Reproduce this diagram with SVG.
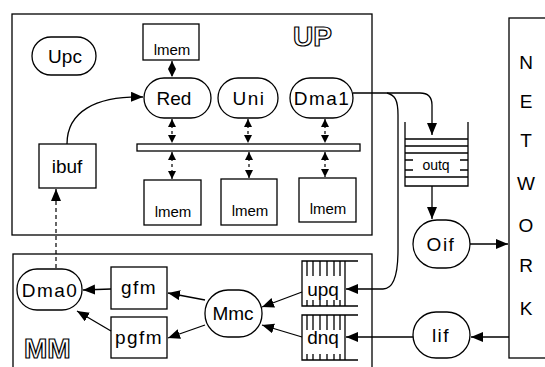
<svg xmlns="http://www.w3.org/2000/svg" width="545" height="367" viewBox="0 0 545 367">
<defs>
<marker id="ah" markerUnits="userSpaceOnUse" markerWidth="13" markerHeight="11" refX="12" refY="5" orient="auto"><path d="M0,0 L12,5 L0,10 z" fill="#000"/></marker>
<marker id="sm" markerUnits="userSpaceOnUse" markerWidth="9" markerHeight="8" refX="8" refY="4" orient="auto-start-reverse"><path d="M0,0 L8,4 L0,8 z" fill="#000"/></marker>
</defs>
<style>
.b{fill:#fff;stroke:#000;stroke-width:1.3}
.l{fill:none;stroke:#000;stroke-width:1.3}
.t{font-family:"Liberation Sans",Arial,sans-serif;font-size:19px;fill:#000;text-anchor:middle}
.s{font-size:15px}
.q{font-size:14px}
.w{letter-spacing:1.5px}
.big{font-family:"Liberation Sans",Arial,sans-serif;font-weight:bold;font-size:28px;fill:#fff;stroke:#000;stroke-width:1.2}
.d{fill:none;stroke:#000;stroke-width:1.2;stroke-dasharray:4 3}
.a{fill:none;stroke:#000;stroke-width:1.3;marker-end:url(#ah)}
.da{fill:none;stroke:#000;stroke-width:1.2;stroke-dasharray:3 3;marker-start:url(#sm);marker-end:url(#sm)}
.n{font-family:"Liberation Sans",Arial,sans-serif;font-size:19px;fill:#000;text-anchor:middle}
</style>
<g id="UP"><rect class="b" x="12" y="14" width="360" height="221"/><text class="big" x="293" y="46">UP</text></g>
<g id="MM"><rect class="b" x="13" y="254" width="359" height="120"/><text class="big" x="24" y="358">MM</text></g>
<g id="NETWORK"><rect class="b" x="509" y="18" width="50" height="340"/>
<text class="n" x="526" y="69">N</text><text class="n" x="526" y="108">E</text><text class="n" x="526" y="147">T</text><text class="n" x="526" y="190">W</text><text class="n" x="526" y="232">O</text><text class="n" x="526" y="272">R</text><text class="n" x="526" y="315">K</text></g>
<g id="Upc"><rect class="b" x="32" y="37" width="64" height="38" rx="19"/><text class="t" x="65" y="63">Upc</text></g>
<g id="lmem0"><rect class="b" x="143" y="24" width="56" height="36"/><text class="t s" x="172" y="55">lmem</text></g>
<g id="Red"><rect class="b" x="144" y="78" width="67" height="40" rx="20"/><text class="t" x="174" y="105">Red</text></g>
<g id="Uni"><rect class="b" x="218" y="78" width="60" height="40" rx="20"/><text class="t w" x="249" y="105">Uni</text></g>
<g id="Dma1"><rect class="b" x="290" y="78" width="63" height="40" rx="20"/><text class="t w" x="322" y="105">Dma1</text></g>
<g id="bus"><rect class="b" x="137" y="144" width="223" height="7"/></g>
<g id="lmem1"><rect class="b" x="144" y="180" width="57" height="45"/><text class="t s" x="173" y="217">lmem</text></g>
<g id="lmem2"><rect class="b" x="221" y="179" width="56" height="46"/><text class="t s" x="250" y="216">lmem</text></g>
<g id="lmem3"><rect class="b" x="299" y="178" width="57" height="44"/><text class="t s" x="328" y="214">lmem</text></g>
<g id="ibuf"><rect class="b" x="39" y="144" width="57" height="44"/><text class="t" x="67" y="173">ibuf</text></g>
<g id="outq"><path class="l" d="M405 122 V186 H468 V122 M405 139 H468 M405 146 H468 M405 153 H468 M405 177 H468 M405 160 H413 M405 170 H413 M460 160 H468 M460 170 H468"/><text class="t q" x="436" y="170">outq</text></g>
<g id="Oif"><rect class="b" x="413" y="220" width="57" height="48" rx="24"/><text class="t w" x="441" y="251">Oif</text></g>
<g id="lif"><rect class="b" x="413" y="312" width="57" height="46" rx="23"/><text class="t w" x="441" y="342">lif</text></g>
<g id="Dma0"><rect class="b" x="17" y="269" width="65" height="41" rx="20"/><text class="t w" x="50" y="297">Dma0</text></g>
<g id="gfm"><rect class="b" x="111" y="267" width="56" height="42"/><text class="t w" x="139" y="294">gfm</text></g>
<g id="pgfm"><rect class="b" x="111" y="317" width="56" height="41"/><text class="t w" x="139" y="344">pgfm</text></g>
<g id="Mmc"><rect class="b" x="205" y="290" width="57" height="47" rx="23"/><text class="t" x="233" y="320">Mmc</text></g>
<g id="upq"><path class="l" d="M358 261 H302 V306 H358 M345 261 V306 M307 261 V276 M313 261 V276 M320 261 V276 M327 261 V276 M334 261 V276 M340 261 V276 M307 300 V306 M313 300 V306 M320 300 V306 M327 300 V306 M334 300 V306 M340 300 V306"/><text class="t" x="323" y="296">upq</text></g>
<g id="dnq"><path class="l" d="M358 315 H302 V360 H358 M345 315 V360 M307 315 V330 M313 315 V330 M320 315 V330 M327 315 V330 M334 315 V330 M340 315 V330 M307 354 V360 M313 354 V360 M320 354 V360 M327 354 V360 M334 354 V360 M340 354 V360"/><text class="t" x="323" y="344">dnq</text></g>
<g id="connectors">
<path class="da" d="M172 61 V77"/>
<path class="da" d="M172 119 V143"/>
<path class="da" d="M248 119 V143"/>
<path class="da" d="M325 119 V143"/>
<path class="da" d="M172 152 V179"/>
<path class="da" d="M249 152 V178"/>
<path class="da" d="M325 152 V177"/>
<path class="a" d="M67 144 C67 112 95 96 143 97"/>
<path class="d" d="M56 268 V196"/>
<path class="a" d="M56 200 V189"/>
<path class="a" d="M353 93 H420 Q432 93 432 105 V135"/>
<path class="a" d="M387 93 C395 95 398 100 398 115 V250 C398 275 393 289 383 289 H346"/>
<path class="a" d="M432 186 V219"/>
<path class="a" d="M470 244 H508"/>
<path class="a" d="M509 337 H471"/>
<path class="a" d="M413 337 H346"/>
<path class="a" d="M302 292 L262 307"/>
<path class="a" d="M302 337 L262 325"/>
<path class="a" d="M205 300 L168 293"/>
<path class="a" d="M205 325 L168 338"/>
<path class="a" d="M111 289 L83 290"/>
<path class="a" d="M111 331 L77 311"/>
</g>
</svg>
